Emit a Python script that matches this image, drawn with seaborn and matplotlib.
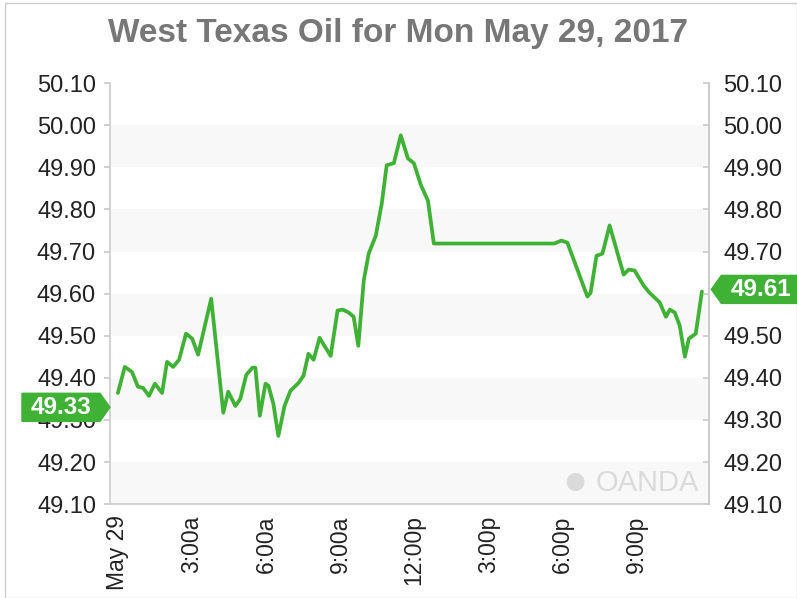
import numpy as np
import pandas as pd
import matplotlib.pyplot as plt
import seaborn as sns
from matplotlib.patches import Rectangle, Polygon
from matplotlib.transforms import IdentityTransform

# Price trace (hours since midnight, price)
hours = [0.00, 0.28, 0.57, 0.81, 1.02, 1.26, 1.50, 1.79, 1.99, 2.24, 2.48, 2.76,
         3.01, 3.25, 3.78, 4.27, 4.47, 4.76, 4.96, 5.20, 5.45, 5.57, 5.75, 5.98,
         6.10, 6.30, 6.50, 6.75, 6.99, 7.32, 7.52, 7.72, 7.93, 8.17, 8.62, 8.90,
         9.11, 9.35, 9.55, 9.74, 9.96, 10.16, 10.45, 10.69, 10.89, 11.18, 11.46,
         11.75, 11.99, 12.28, 12.56, 12.80, 17.68, 17.97, 18.21, 19.02, 19.15,
         19.39, 19.63, 19.92, 20.49, 20.69, 20.93, 21.30, 21.54, 21.95, 22.20,
         22.36, 22.56, 22.76, 22.97, 23.13, 23.41, 23.66]
prices = [49.364, 49.426, 49.414, 49.379, 49.376, 49.357, 49.386, 49.364, 49.438,
          49.426, 49.443, 49.505, 49.493, 49.455, 49.588, 49.317, 49.367, 49.333,
          49.350, 49.407, 49.424, 49.424, 49.310, 49.386, 49.381, 49.338, 49.262,
          49.333, 49.369, 49.388, 49.405, 49.457, 49.443, 49.495, 49.452, 49.560,
          49.562, 49.555, 49.545, 49.476, 49.631, 49.695, 49.738, 49.814, 49.905,
          49.910, 49.976, 49.921, 49.910, 49.857, 49.821, 49.719, 49.719, 49.726,
          49.721, 49.593, 49.602, 49.690, 49.695, 49.762, 49.645, 49.657, 49.655,
          49.619, 49.602, 49.579, 49.545, 49.562, 49.555, 49.524, 49.450, 49.493,
          49.505, 49.605]

tick_hours = [0, 3, 6, 9, 12, 15, 18, 21]
tick_labels = ['May 29', '3:00a', '6:00a', '9:00a', '12:00p', '3:00p', '6:00p', '9:00p']
y_ticks = [49.10, 49.20, 49.30, 49.40, 49.50, 49.60, 49.70, 49.80, 49.90, 50.00, 50.10]
open_price = 49.33
last_price = 49.61

df = pd.DataFrame({'hour': hours, 'price': prices})

sns.set_theme(style='white')
plt.rcParams['font.family'] = ['Liberation Sans', 'DejaVu Sans']

green = '#3fb236'
fig = plt.figure(figsize=(7.97, 5.98), dpi=100)
ax = fig.add_axes([0.138, 0.157, 0.752, 0.704])

# alternating grey bands
for lo in [49.1, 49.3, 49.5, 49.7, 49.9]:
    ax.axhspan(lo, lo + 0.1, color='#f8f8f8', zorder=0, lw=0)

sns.lineplot(data=df, x='hour', y='price', ax=ax, color=green, lw=2.7, zorder=3)

ax.set_xlim(-0.32, 23.96)
ax.set_ylim(49.10, 50.10)
ax.set_xticks(tick_hours)
ax.set_xticklabels(tick_labels, rotation=90, fontsize=16.5, color='#222222')
ax.set_yticks(y_ticks)
ax.set_yticklabels([f'{v:.2f}' for v in y_ticks], fontsize=17, color='#222222')
ax.set_xlabel('')
ax.set_ylabel('')
ax.tick_params(axis='x', direction='in', length=4, color='#cccccc', pad=8)
ax.tick_params(axis='y', direction='out', length=4, color='#cccccc', pad=6)
ax.spines['top'].set_visible(False)
for s in ['left', 'right', 'bottom']:
    ax.spines[s].set_color('#cccccc')
    ax.spines[s].set_linewidth(1.2)

ax2 = ax.twinx()
ax2.set_ylim(49.10, 50.10)
ax2.set_yticks(y_ticks)
ax2.set_yticklabels([f'{v:.2f}' for v in y_ticks], fontsize=17, color='#222222')
ax2.tick_params(axis='y', direction='in', length=4, color='#cccccc', pad=10)
for s in ['top', 'left', 'bottom']:
    ax2.spines[s].set_visible(False)
ax2.spines['right'].set_color('#cccccc')
ax2.grid(False)


def price_flag(value, side):
    # flag drawn in pixels, anchored on the axis spine at the data value
    if side == 'left':
        x0, y0 = ax.get_yaxis_transform().transform((0, value))
        tip, inner, outer = x0, x0 - 10, x0 - 88
    else:
        x0, y0 = ax.get_yaxis_transform().transform((1, value))
        tip, inner, outer = x0 + 2, x0 + 12, x0 + 92
    h = 14
    pts = [(tip, y0), (inner, y0 + h), (outer, y0 + h), (outer, y0 - h), (inner, y0 - h)]
    fig.patches.append(Polygon(pts, closed=True, fc=green, ec=green,
                               transform=IdentityTransform(), zorder=5))
    fig.text((inner + outer) / 2, y0, f'{value:.2f}', transform=IdentityTransform(),
             ha='center', va='center', color='white', fontsize=17.5,
             fontweight='bold', zorder=6)


price_flag(open_price, 'left')
price_flag(last_price, 'right')

# watermark
ax.text(0.982, 0.05, 'OANDA', transform=ax.transAxes, ha='right', va='center',
        fontsize=21, color='#dadada', zorder=1)
ax.text(0.775, 0.05, '\u25cf', transform=ax.transAxes, ha='center', va='center',
        fontsize=30, color='#dadada', zorder=1)

fig.suptitle('West Texas Oil for Mon May 29, 2017', y=0.97, fontsize=24,
             color='#777777', fontweight='bold')
fig.patches.append(Rectangle((0.006, 0.0), 0.994, 0.995, transform=fig.transFigure,
                             fill=False, ec='#cccccc', lw=1))

fig.savefig('out.png', dpi=100)
